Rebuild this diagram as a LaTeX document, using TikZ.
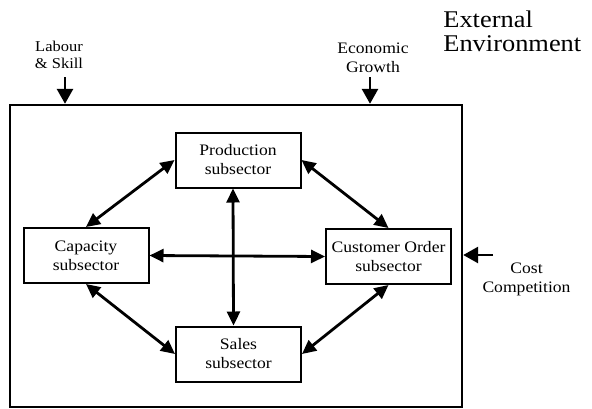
\documentclass[tikz,border=0pt]{standalone}
\usepackage{fontspec}
\setmainfont{Liberation Serif}[FakeStretch=1.1]
\usetikzlibrary{arrows.meta}

\begin{document}
\begin{tikzpicture}[x=1pt,y=-1pt,line width=2.8pt,
	>={Triangle[length=14pt,width=13pt]},
	sub/.style={draw,line width=2pt,minimum width=125pt,minimum height=55pt,
		align=center,inner sep=1pt,font=\fontsize{16}{19}\selectfont},
	lbl/.style={align=center,inner sep=0pt,font=\fontsize{16}{19}\selectfont}]
\useasboundingbox (0,0) rectangle (592,408);

% environment
\node[draw,line width=2.4pt,minimum width=452pt,minimum height=302pt,inner sep=0pt] (env) at (236,256) {};
\node[anchor=west,align=left,inner sep=0pt,font=\fontsize{24}{24}\selectfont] (ext) at (442,31) {External\\Environment};

% subsectors
\node[sub] (prod) at (238,160) {Production\\subsector};
\node[sub] (cap) at (86,255.5) {Capacity\\subsector};
\node[sub] (cust) at (388.5,256.5) {Customer Order\\subsector};
\node[sub] (sales) at (238.5,354) {Sales\\subsector};

% links
\draw[<->] (cap.north) -- (prod.west);
\draw[<->] (prod.east) -- (cust.north);
\draw[<->] (cap.south) -- (sales.west);
\draw[<->] (cust.south) -- (sales.east);
\draw[<->] (cap.east) -- (cust.west);
\draw[<->] ([xshift=-5pt]prod.south) -- ([xshift=-5pt]sales.north);

% outside influences
\node[lbl,font=\fontsize{15}{17}\selectfont] (labour) at (59,55) {Labour\\\& Skill};
\node[lbl] (growth) at (373,58) {Economic\\Growth};
\node[lbl] (cost) at (526.5,279) {Cost\\Competition};
\coordinate (labin) at (65,77);
\coordinate (growin) at (370,77);
\coordinate (costin) at (493,255);
\draw[->,>={Triangle[length=15pt,width=16pt]}] (labin) -- (labin |- env.north);
\draw[->,>={Triangle[length=15pt,width=16pt]}] (growin) -- (growin |- env.north);
\draw[->,>={Triangle[length=15pt,width=16pt]}] (costin) -- (costin -| env.east);
\end{tikzpicture}
\end{document}
